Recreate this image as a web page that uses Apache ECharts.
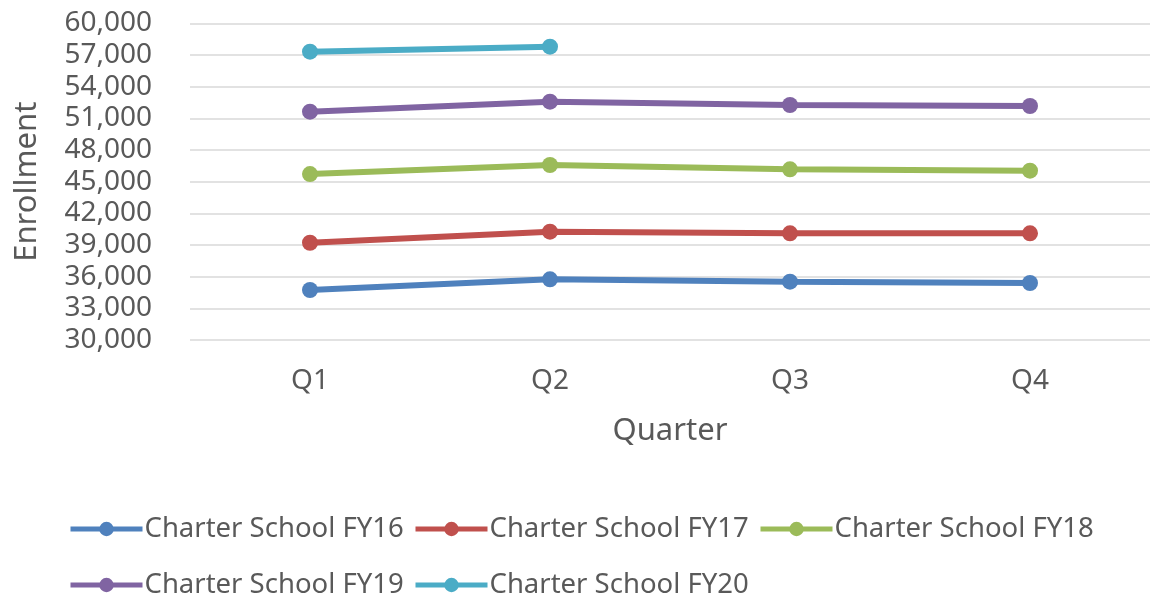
<!DOCTYPE html>
<html>
<head>
<meta charset="utf-8">
<script src="https://cdn.jsdelivr.net/npm/echarts@6/dist/echarts.min.js"></script>
<style>html,body{margin:0;padding:0;background:#fff}#c{width:1153px;height:601px}</style>
</head>
<body>
<div id="c"></div>
<script>
var categories = ['Q1', 'Q2', 'Q3', 'Q4'];
var seriesNames = ['Charter School FY16', 'Charter School FY17', 'Charter School FY18', 'Charter School FY19', 'Charter School FY20'];
var fy16 = [34740, 35750, 35530, 35400];
var fy17 = [39220, 40270, 40110, 40110];
var fy18 = [45730, 46590, 46180, 46050];
var fy19 = [51640, 52590, 52275, 52180];
var fy20 = [57330, 57800, null, null];
var colors = ['#4f81bd', '#c0504d', '#9bbb59', '#8064a2', '#4bacc6'];
var allData = [fy16, fy17, fy18, fy19, fy20];

var FONT = 'Noto Sans';
var TXT = '#595959';
var chart = echarts.init(document.getElementById('c'));
var series = seriesNames.map(function (n, i) {
  return {
    name: n, type: 'line', data: allData[i],
    symbol: 'circle', symbolSize: 16,
    lineStyle: { width: 6, color: colors[i] },
    itemStyle: { color: colors[i] },
    emphasis: { disabled: true }
  };
});
var legendLefts = [68, 413, 758, 68, 413];
var legendTops = [515, 515, 515, 571, 571];
var legends = seriesNames.map(function (n, i) {
  return {
    orient: 'horizontal', left: legendLefts[i], top: legendTops[i], padding: 0,
    itemWidth: 72, itemHeight: 18, itemGap: 0,
    lineStyle: { width: 5 },
    textStyle: { fontFamily: FONT, fontSize: 27.5, color: TXT, padding: [0, 0, 0, -3] },
    selectedMode: false,
    data: [n]
  };
});
chart.setOption({
  animation: false,
  color: colors,
  grid: { left: 190, right: 3, top: 23.5, bottom: 261, containLabel: false },
  legend: legends,
  xAxis: {
    type: 'category', data: categories, boundaryGap: true,
    name: 'Quarter', nameLocation: 'middle', nameGap: 76,
    nameTextStyle: { fontFamily: FONT, fontSize: 31, color: TXT },
    axisLine: { show: false }, axisTick: { show: false },
    axisLabel: { fontFamily: FONT, fontSize: 28, color: TXT, margin: 27 }
  },
  yAxis: {
    type: 'value', min: 30000, max: 60000, interval: 3000,
    name: 'Enrollment', nameLocation: 'middle', nameGap: 147, nameRotate: 90,
    nameTextStyle: { fontFamily: FONT, fontSize: 31, color: TXT },
    axisLine: { show: false }, axisTick: { show: false },
    axisLabel: {
      fontFamily: FONT, fontSize: 28, color: TXT, margin: 38,
      formatter: function (v) { return v.toLocaleString('en-US'); }
    },
    splitLine: { lineStyle: { color: '#d9d9d9', width: 1.5 } }
  },
  series: series
});
</script>
</body>
</html>
